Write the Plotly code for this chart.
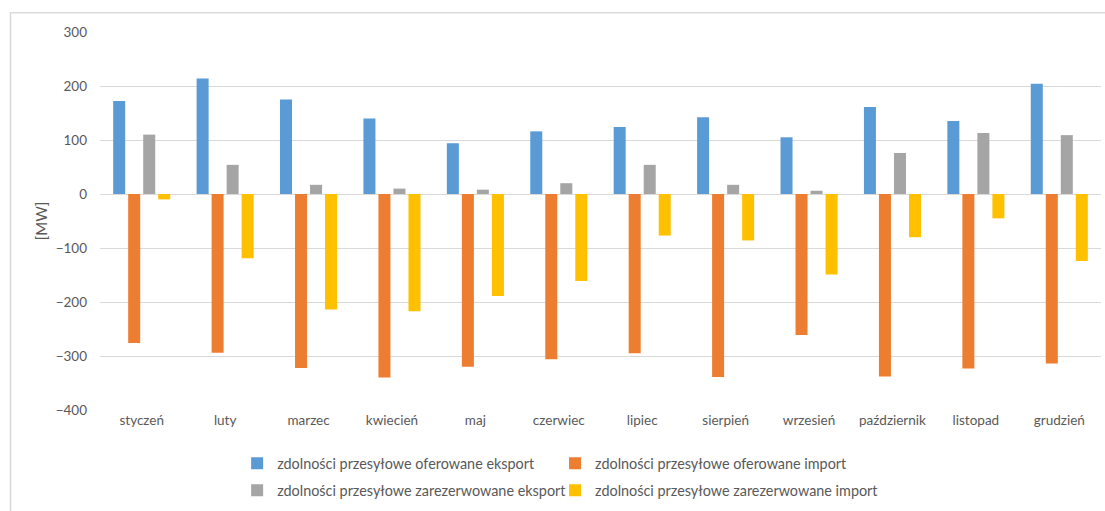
import plotly.graph_objects as go

# Monthly transmission capacity, MW
months = ["styczeń", "luty", "marzec", "kwiecień", "maj", "czerwiec",
          "lipiec", "sierpień", "wrzesień", "październik", "listopad", "grudzień"]

offered_export = [172, 214, 175, 140, 94, 116, 124, 142, 105, 161, 135, 204]
offered_import = [-276, -294, -322, -340, -320, -306, -295, -339, -261, -338, -323, -314]
reserved_export = [110, 54, 17, 10, 8, 20, 54, 17, 6, 76, 113, 109]
reserved_import = [-10, -119, -214, -217, -189, -161, -77, -86, -149, -80, -45, -124]

# one legend box per entry: two columns, two rows below the plot
series = [
    ("zdolności przesyłowe oferowane eksport", offered_export, "#5B9BD5", "legend"),
    ("zdolności przesyłowe oferowane import", offered_import, "#ED7D31", "legend2"),
    ("zdolności przesyłowe zarezerwowane eksport", reserved_export, "#A5A5A5", "legend3"),
    ("zdolności przesyłowe zarezerwowane import", reserved_import, "#FFC000", "legend4"),
]

FONT = "Lato, 'Open Sans', sans-serif"
TEXT = "#595959"

fig = go.Figure()
for name, values, color, leg in series:
    fig.add_trace(go.Bar(
        x=months, y=values, name=name,
        marker=dict(color=color, line=dict(width=0)),
        legend=leg,
    ))

legend_common = dict(
    orientation="h",
    xanchor="left", yanchor="middle",
    font=dict(family=FONT, size=14.4, color=TEXT),
    bgcolor="rgba(0,0,0,0)",
    itemwidth=30,
)

col1_x, col2_x = 0.137, 0.4546
row1_y, row2_y = -0.141, -0.213

fig.update_layout(
    width=1105, height=511,
    margin=dict(l=100, r=4, t=32, b=97),
    paper_bgcolor="white", plot_bgcolor="white",
    font=dict(family=FONT, size=13, color=TEXT),
    barmode="group",
    bargap=0.28,
    bargroupgap=0.2,
    showlegend=True,
    legend=dict(x=col1_x, y=row1_y, **legend_common),
    legend2=dict(x=col2_x, y=row1_y, **legend_common),
    legend3=dict(x=col1_x, y=row2_y, **legend_common),
    legend4=dict(x=col2_x, y=row2_y, **legend_common),
    xaxis=dict(
        showgrid=False, showline=False, zeroline=False,
        ticks="", tickfont=dict(family=FONT, size=13.5, color=TEXT),
    ),
    yaxis=dict(
        range=[-400, 300], dtick=100,
        showgrid=True, gridcolor="#D9D9D9", gridwidth=1,
        zeroline=True, zerolinecolor="#D9D9D9", zerolinewidth=1,
        showline=False, ticks="",
        ticklabelstandoff=12,
        tickfont=dict(family=FONT, size=13.5, color=TEXT),
        title=dict(text="[MW]", font=dict(family=FONT, size=15, color=TEXT), standoff=4),
    ),
    shapes=[dict(
        type="rect", xref="paper", yref="paper",
        x0=-0.0894, x1=1.02, y0=-0.3, y1=1.051,
        line=dict(color="#D9D9D9", width=1.5),
        fillcolor="rgba(0,0,0,0)", layer="below",
    )],
)

fig.write_html("out.html")
